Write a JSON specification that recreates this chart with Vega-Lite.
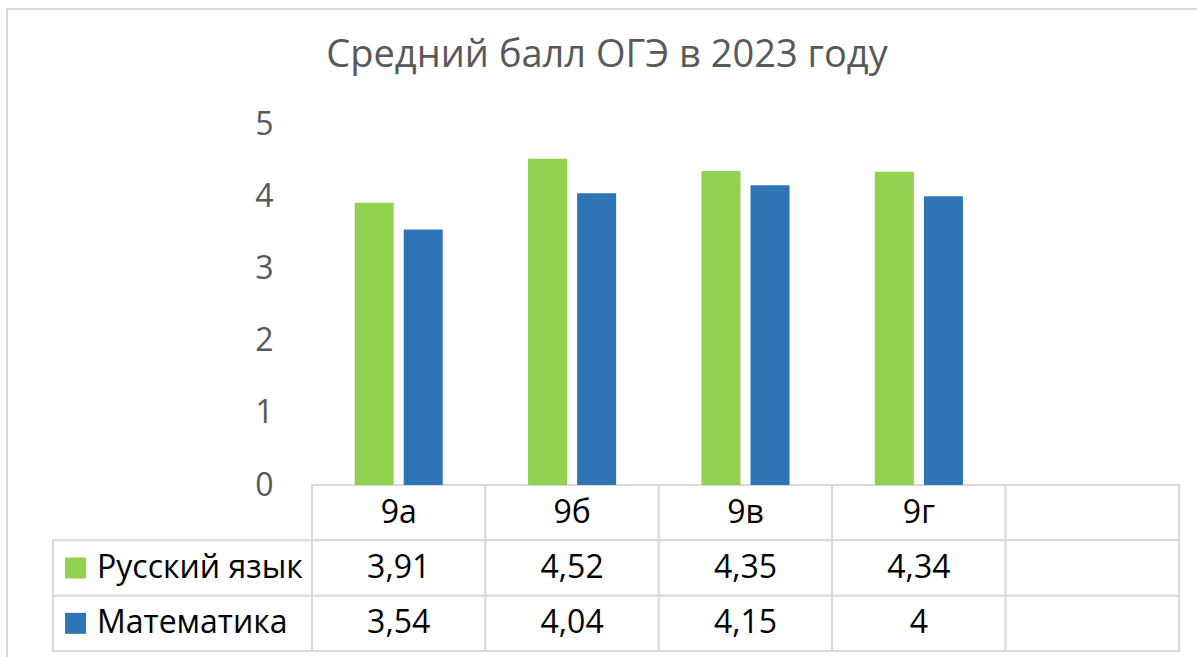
{
  "$schema": "https://vega.github.io/schema/vega-lite/v6.json",
  "width": 1200,
  "height": 660,
  "autosize": {"type": "none"},
  "padding": {"left": 7, "top": 9, "right": 0, "bottom": 0},
  "background": "white",
  "config": {
    "view": {"stroke": "#d9d9d9", "strokeWidth": 2},
    "font": "Open Sans",
    "locale": {"number": {"decimal": ",", "thousands": " ", "grouping": [3], "currency": ["", ""]}}
  },
  "title": {
    "text": "Средний балл ОГЭ в 2023 году",
    "font": "Open Sans",
    "fontSize": 38,
    "fontWeight": "normal",
    "color": "#595959",
    "anchor": "middle",
    "baseline": "alphabetic",
    "offset": -96
  },
  "datasets": {
    "scores": [
      {"class": "9а", "subject": "Русский язык", "value": 3.91},
      {"class": "9а", "subject": "Математика", "value": 3.54},
      {"class": "9б", "subject": "Русский язык", "value": 4.52},
      {"class": "9б", "subject": "Математика", "value": 4.04},
      {"class": "9в", "subject": "Русский язык", "value": 4.35},
      {"class": "9в", "subject": "Математика", "value": 4.15},
      {"class": "9г", "subject": "Русский язык", "value": 4.34},
      {"class": "9г", "subject": "Математика", "value": 4}
    ],
    "cells": [
      {"column": "9а", "row": "header"}, {"column": "9а", "row": "Русский язык"}, {"column": "9а", "row": "Математика"},
      {"column": "9б", "row": "header"}, {"column": "9б", "row": "Русский язык"}, {"column": "9б", "row": "Математика"},
      {"column": "9в", "row": "header"}, {"column": "9в", "row": "Русский язык"}, {"column": "9в", "row": "Математика"},
      {"column": "9г", "row": "header"}, {"column": "9г", "row": "Русский язык"}, {"column": "9г", "row": "Математика"},
      {"column": " ", "row": "header"}, {"column": " ", "row": "Русский язык"}, {"column": " ", "row": "Математика"}
    ]
  },
  "layer": [
    {
      "data": {"name": "cells"},
      "mark": {"type": "rect", "fill": "white", "stroke": "#d9d9d9", "strokeWidth": 2},
      "encoding": {
        "x": {"field": "column", "type": "nominal", "axis": null,
              "scale": {"type": "band", "domain": ["9а", "9б", "9в", "9г", " "], "range": [305, 1172], "paddingInner": 0, "paddingOuter": 0}},
        "y": {"field": "row", "type": "nominal", "axis": null,
              "scale": {"type": "band", "domain": ["header", "Русский язык", "Математика"], "range": [476, 642], "paddingInner": 0, "paddingOuter": 0}}
      }
    },
    {
      "data": {"name": "scores"},
      "transform": [{"filter": "datum.class == '9а'"}],
      "mark": {"type": "rect", "fill": "white", "stroke": "#d9d9d9", "strokeWidth": 2},
      "encoding": {
        "x": {"datum": 0, "type": "quantitative", "axis": null, "scale": {"domain": [0, 1], "range": [46, 305]}},
        "x2": {"datum": 1},
        "y": {"field": "subject", "type": "nominal", "axis": null,
              "scale": {"type": "band", "domain": ["header", "Русский язык", "Математика"], "range": [476, 642], "paddingInner": 0, "paddingOuter": 0}}
      }
    },
    {
      "data": {"name": "scores"},
      "mark": {"type": "bar"},
      "encoding": {
        "x": {"field": "class", "type": "nominal", "axis": null,
              "scale": {"type": "band", "domain": ["9а", "9б", "9в", "9г", " "], "range": [305, 1172], "paddingInner": 0, "paddingOuter": 0}},
        "xOffset": {"field": "subject", "type": "nominal",
                    "scale": {"domain": ["Русский язык", "Математика"], "paddingInner": 0.204, "paddingOuter": 0.87}},
        "y": {"field": "value", "type": "quantitative",
              "scale": {"domain": [0, 5], "range": [476, 115], "nice": false},
              "axis": {"values": [0, 1, 2, 3, 4, 5], "grid": false, "domain": false, "ticks": false, "title": null,
                       "labelPadding": 2, "labelFontSize": 32, "labelColor": "#595959", "labelFont": "Open Sans", "offset": -268}},
        "color": {"field": "subject", "type": "nominal", "legend": null,
                  "scale": {"domain": ["Русский язык", "Математика"], "range": ["#92d050", "#2e75b6"]}}
      }
    },
    {
      "data": {"name": "scores"},
      "transform": [{"filter": "datum.subject == 'Русский язык'"}],
      "mark": {"type": "text", "fontSize": 32, "color": "#000000", "baseline": "middle", "align": "center"},
      "encoding": {
        "x": {"field": "class", "type": "nominal", "axis": null,
              "scale": {"type": "band", "domain": ["9а", "9б", "9в", "9г", " "], "range": [305, 1172], "paddingInner": 0, "paddingOuter": 0}},
        "y": {"datum": "header", "type": "nominal", "axis": null,
              "scale": {"type": "band", "domain": ["header", "Русский язык", "Математика"], "range": [476, 642], "paddingInner": 0, "paddingOuter": 0}},
        "text": {"field": "class", "type": "nominal"}
      }
    },
    {
      "data": {"name": "scores"},
      "mark": {"type": "text", "fontSize": 32, "color": "#000000", "baseline": "middle", "align": "center"},
      "encoding": {
        "x": {"field": "class", "type": "nominal", "axis": null,
              "scale": {"type": "band", "domain": ["9а", "9б", "9в", "9г", " "], "range": [305, 1172], "paddingInner": 0, "paddingOuter": 0}},
        "y": {"field": "subject", "type": "nominal", "axis": null,
              "scale": {"type": "band", "domain": ["header", "Русский язык", "Математика"], "range": [476, 642], "paddingInner": 0, "paddingOuter": 0}},
        "text": {"field": "value", "type": "quantitative", "format": "~g"}
      }
    },
    {
      "data": {"name": "scores"},
      "transform": [{"filter": "datum.class == '9а'"}],
      "mark": {"type": "square", "size": 441, "filled": true, "opacity": 1},
      "encoding": {
        "x": {"datum": 0.087, "type": "quantitative", "axis": null, "scale": {"domain": [0, 1], "range": [46, 305]}},
        "y": {"field": "subject", "type": "nominal", "axis": null,
              "scale": {"type": "band", "domain": ["header", "Русский язык", "Математика"], "range": [476, 642], "paddingInner": 0, "paddingOuter": 0}},
        "color": {"field": "subject", "type": "nominal", "legend": null,
                  "scale": {"domain": ["Русский язык", "Математика"], "range": ["#92d050", "#2e75b6"]}}
      }
    },
    {
      "data": {"name": "scores"},
      "transform": [{"filter": "datum.class == '9а'"}],
      "mark": {"type": "text", "fontSize": 32, "color": "#000000", "baseline": "middle", "align": "left"},
      "encoding": {
        "x": {"datum": 0.17, "type": "quantitative", "axis": null, "scale": {"domain": [0, 1], "range": [46, 305]}},
        "y": {"field": "subject", "type": "nominal", "axis": null,
              "scale": {"type": "band", "domain": ["header", "Русский язык", "Математика"], "range": [476, 642], "paddingInner": 0, "paddingOuter": 0}},
        "text": {"field": "subject", "type": "nominal"}
      }
    }
  ],
  "resolve": {"scale": {"x": "independent", "y": "independent"}}
}
